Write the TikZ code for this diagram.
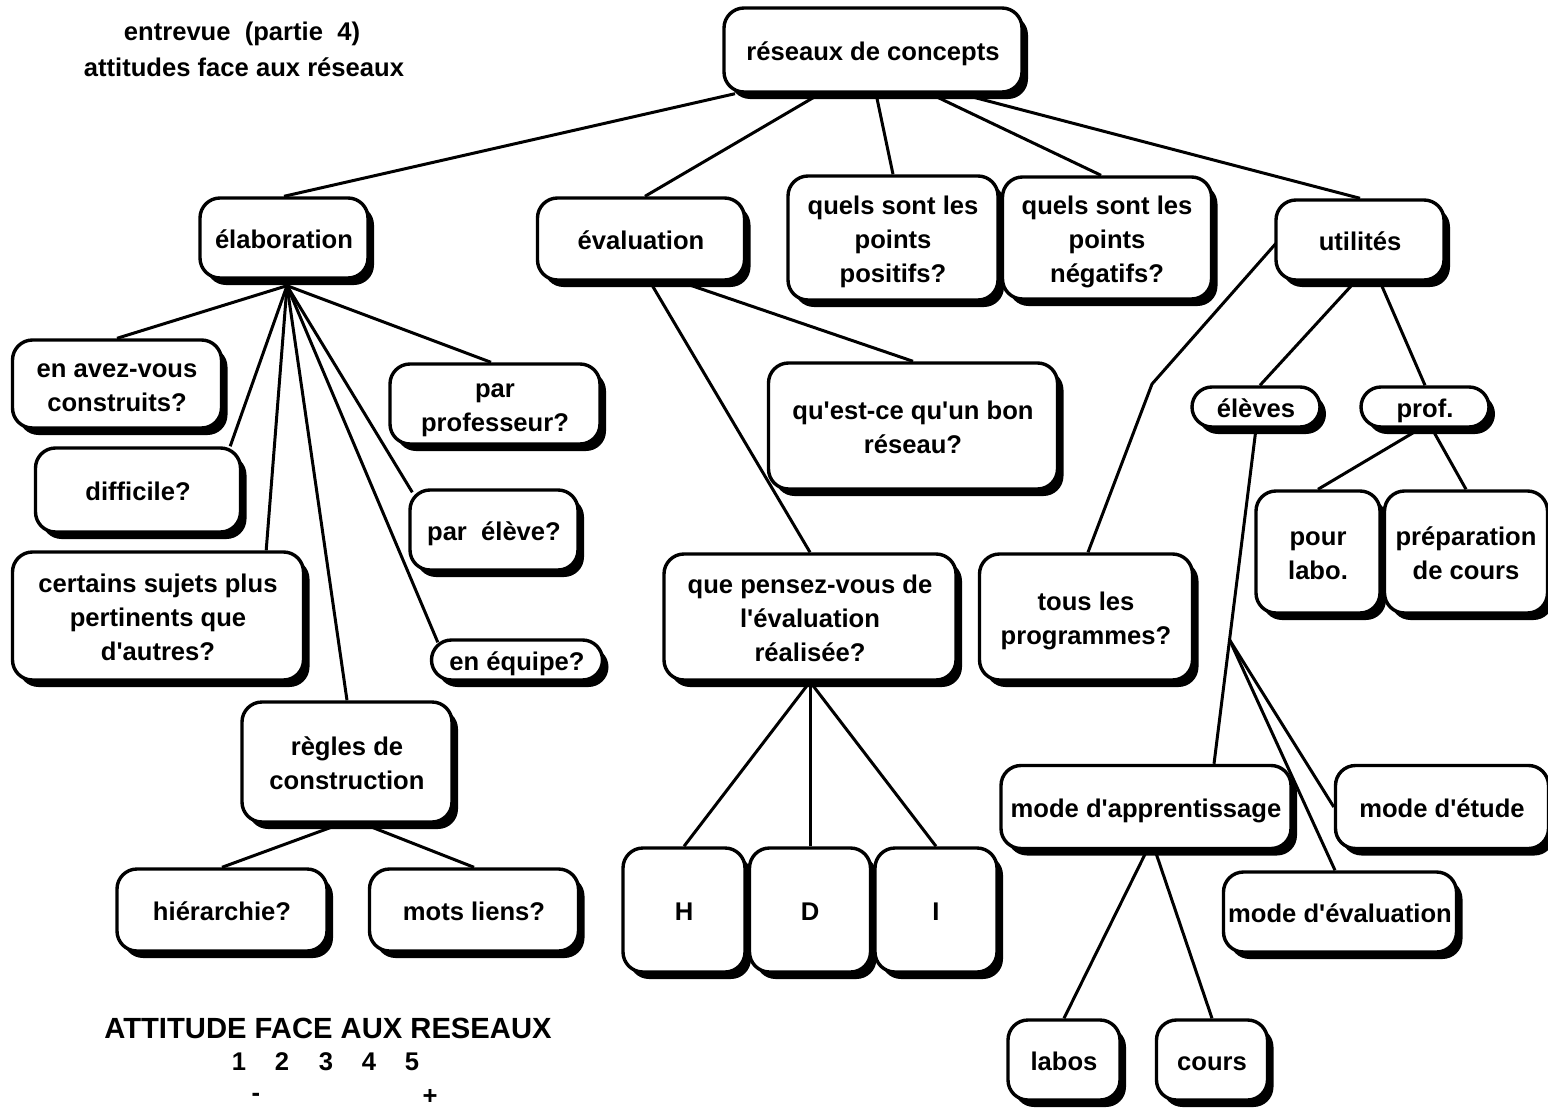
\documentclass[tikz,border=0pt]{standalone}
\usepackage{fontspec}
\setmainfont{Liberation Sans}
\usepackage{tikz}
\usetikzlibrary{calc}
\usetikzlibrary{shadows}
\usetikzlibrary{backgrounds}
\newcommand{\ap}{\textquotesingle}
\newcommand{\boxstrut}{\rule[-3pt]{0pt}{16.5pt}}

\begin{document}
\begin{tikzpicture}[x=0.5pt,y=-0.5pt,
    concept/.style={draw, line width=1.7pt, rounded corners=10pt, fill=white,
      align=center, inner sep=2pt,
      font=\bfseries\fontsize{12.8}{16.8}\selectfont,
      execute at begin node=\boxstrut, execute at end node=\boxstrut,
      general shadow={fill=black, shadow xshift=3pt, shadow yshift=-3.5pt}},
    link/.style={line width=1.5pt},
    plain/.style={font=\bfseries\fontsize{12.8}{16.5}\selectfont}]
      \useasboundingbox (0,0) rectangle (1548,1108);

      % titres
      \node[plain] (titre1) at (242,34) {entrevue\ \ (partie\ \ 4)};
      \node[plain] (titre2) at (244,67) {attitudes face aux réseaux};

      % racine et premier niveau
      \node[concept, minimum width=149pt, minimum height=42pt] (res) at (873,50) {réseaux de concepts};
      \node[concept, minimum width=84pt, minimum height=40pt] (elab) at (284,238) {élaboration};
      \node[concept, minimum width=103.5pt, minimum height=41pt] (eval) at (641,239) {évaluation};
      \node[concept, minimum width=105pt, minimum height=62pt] (pos) at (893,238) {\boxstrut quels sont les\\points\\positifs?};
      \node[concept, minimum width=104.5pt, minimum height=61pt] (neg) at (1107,238) {\boxstrut quels sont les\\points\\négatifs?};
      \node[concept, minimum width=84pt, minimum height=40pt] (util) at (1360,240) {utilités};

      % élaboration
      \node[concept, minimum width=104.5pt, minimum height=44pt] (avez) at (117,384) {\boxstrut en avez-vous\\construits?};
      \node[concept, minimum width=102.5pt, minimum height=42pt] (diff) at (138,490) {difficile?};
      \node[concept, minimum width=145.5pt, minimum height=64pt] (cert) at (158,616) {\boxstrut certains sujets plus\\pertinents que\\d\ap autres?};
      \node[concept, inner ysep=0pt, minimum width=105pt, minimum height=40pt] (parprof) at (495,404) {\boxstrut par\\professeur?};
      \node[concept, minimum width=84pt, minimum height=40pt] (parel) at (494,530) {par\ \ élève?};
      \node[concept, minimum width=85.5pt, minimum height=20pt, inner sep=0pt] (equipe) at (517,660) {en équipe?};
      \node[concept, minimum width=105pt, minimum height=60pt] (regles) at (347,762) {\boxstrut règles de\\construction};
      \node[concept, minimum width=105pt, minimum height=41pt] (hier) at (222,910) {hiérarchie?};
      \node[concept, minimum width=104.5pt, minimum height=41pt] (mots) at (474,910) {mots liens?};

      % évaluation
      \node[concept, minimum width=144.5pt, minimum height=63pt] (bon) at (913,426) {\boxstrut qu\ap est-ce qu\ap un bon\\réseau?};
      \node[concept, minimum width=146pt, minimum height=63pt] (quepens) at (810,617) {\boxstrut que pensez-vous de\\l\ap évaluation\\réalisée?};
      \node[concept, minimum width=61pt, minimum height=62pt] (H) at (684,910) {H};
      \node[concept, minimum width=60.5pt, minimum height=62pt] (D) at (810,910) {D};
      \node[concept, minimum width=61pt, minimum height=62pt] (I) at (936,910) {I};

      % utilités
      \node[concept, minimum width=106.5pt, minimum height=63pt] (tous) at (1086,617) {\boxstrut tous les\\programmes?};
      \node[concept, minimum width=64pt, minimum height=20pt, inner sep=0pt] (eleves) at (1256,407) {élèves};
      \node[concept, minimum width=64pt, minimum height=20pt, inner sep=0pt] (prof) at (1425,407) {prof.};
      \node[concept, minimum width=62pt, minimum height=61pt] (labo) at (1318,552) {\boxstrut pour\\labo.};
      \node[concept, minimum width=81.5pt, minimum height=61pt, inner sep=0pt] (prep) at (1466,552) {\boxstrut préparation\\de cours};
      \node[concept, minimum width=145pt, minimum height=41.5pt] (appr) at (1146,807) {mode d\ap apprentissage};
      \node[concept, minimum width=106.5pt, minimum height=41.5pt] (etude) at (1442,807) {mode d\ap étude};
      \node[concept, minimum width=116.5pt, minimum height=40pt] (modeval) at (1340,912) {mode d\ap évaluation};
      \node[concept, minimum width=56pt, minimum height=40pt] (labos) at (1064,1060) {labos};
      \node[concept, minimum width=55.5pt, minimum height=40pt] (cours) at (1212,1060) {cours};

      % échelle
      \node[font=\bfseries\fontsize{14.6}{16}\selectfont] (echelle) at (328,1028) {ATTITUDE FACE AUX RESEAUX};
      \foreach \n/\x in {1/239,2/282,3/326,4/369,5/412}
        \node[plain] (note\n) at (\x,1062) {\n};
      \node[plain] (moins) at (256,1097) {-};
      \node[plain] (plus) at (430,1097) {+};

      \begin{scope}[on background layer]
        \coordinate (elabhub) at ($(elab.south)+(3,6)$);
        \coordinate (ubend) at (1152,384);
        \coordinate (ebranch) at ($(eleves.south)!0.63!($(appr.north)+(68,0)$)$);

        \draw[link] ($(res.south)+(-138,0)$) -- (elab.north);
        \draw[link] ($(res.south)+(-53,0)$) -- ($(eval.north)+(4,0)$);
        \draw[link] ($(res.south)+(3,0)$) -- (pos.north);
        \draw[link] ($(res.south)+(57,0)$) -- ($(neg.north)+(-6,0)$);
        \draw[link] ($(res.south)+(87,0)$) -- (util.north);

        \draw[link] (elabhub) -- (avez.north);
        \draw[link] (elabhub) -- ($(diff.north east)+(-12,0)$);
        \draw[link] (elabhub) -- ($(cert.north east)+(-39,0)$);
        \draw[link] (elabhub) -- (regles.north);
        \draw[link] (elabhub) -- ($(equipe.north west)+(8,4)$);
        \draw[link] (elabhub) -- ($(parel.north west)+(4,4)$);
        \draw[link] (elabhub) -- ($(parprof.north)+(-4,0)$);
        \draw[link] ($(regles.south)+(-6,0)$) -- (hier.north);
        \draw[link] ($(regles.south)+(16,0)$) -- (mots.north);

        \draw[link] ($(eval.south)+(9,0)$) -- (quepens.north);
        \draw[link] ($(eval.south)+(39,0)$) -- (bon.north);
        \draw[link] (quepens.south) -- (H.north);
        \draw[link] (quepens.south) -- (D.north);
        \draw[link] (quepens.south) -- (I.north);

        \draw[link] ($(util.west)+(2,3)$) -- (ubend) -- ($(tous.north)+(2,0)$);
        \draw[link] ($(util.south)+(-5,0)$) -- ($(eleves.north)+(4,0)$);
        \draw[link] ($(util.south)+(20,0)$) -- (prof.north);
        \draw[link] ($(prof.south)+(-5,0)$) -- (labo.north);
        \draw[link] ($(prof.south)+(7,0)$) -- (prep.north);
        \draw[link] (eleves.south) -- ($(appr.north)+(68,0)$);
        \draw[link] (ebranch) -- (etude.west);
        \draw[link] (ebranch) -- ($(modeval.north)+(-5,0)$);
        \draw[link] ($(appr.south)+(1,0)$) -- (labos.north);
        \draw[link] ($(appr.south)+(9,0)$) -- (cours.north);
      \end{scope}
     \end{tikzpicture}
\end{document}
